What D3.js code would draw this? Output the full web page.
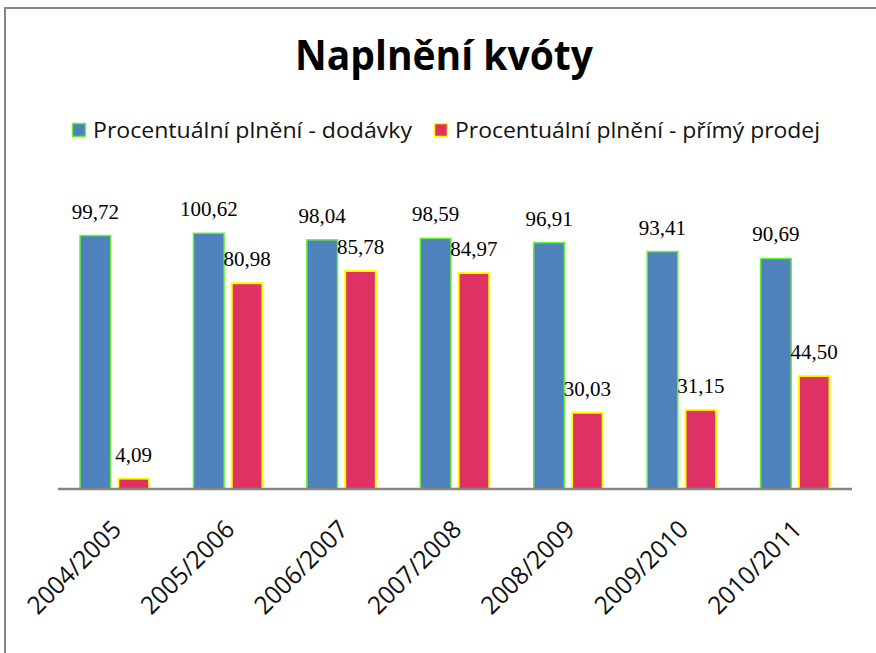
<html>
<head>
<meta charset="utf-8">
<script src="https://d3js.org/d3.v7.min.js"></script>
<style>
body { margin: 0; background: #fff; }
svg { display: block; }
</style>
</head>
<body>
<svg></svg>
<script>

var width = 876;
var height = 653;

// Data
var seasons = ["2004/2005", "2005/2006", "2006/2007", "2007/2008", "2008/2009", "2009/2010", "2010/2011"];
var seriesNames = ["Procentuální plnění - dodávky", "Procentuální plnění - přímý prodej"];
var dodavky = [99.72, 100.62, 98.04, 98.59, 96.91, 93.41, 90.69];
var primyProdej = [4.09, 80.98, 85.78, 84.97, 30.03, 31.15, 44.50];

var fills = ["#4F81BD", "#DE3264"];
var strokes = ["#66F233", "#FFFF00"];

var svg = d3.select("svg").attr("width", width).attr("height", height);

// outer frame (only top and left edges show in the window)
svg.append("rect")
	.attr("x", 5).attr("y", 8)
	.attr("width", 1000).attr("height", 1000)
	.style("fill", "none")
	.style("stroke", "#868686")
	.style("stroke-width", 2);

// title
svg.append("text")
	.attr("x", 444).attr("y", 70)
	.attr("text-anchor", "middle")
	.attr("textLength", 298)
	.attr("lengthAdjust", "spacingAndGlyphs")
	.style("font-family", "'Open Sans', 'Noto Sans', sans-serif")
	.style("font-weight", "bold")
	.style("font-size", "42px")
	.text("Naplnění kvóty");

// legend
var legendX = [72, 434];
var legendW = [319, 365];
var legend = svg.selectAll("g.legend").data(seriesNames).enter().append("g")
	.attr("class", "legend")
	.attr("transform", function (d, i) { return "translate(" + legendX[i] + ",0)"; });

legend.append("rect")
	.attr("x", 0.5).attr("y", 123.5)
	.attr("width", 13).attr("height", 13)
	.style("fill", function (d, i) { return fills[i]; })
	.style("stroke", function (d, i) { return strokes[i]; })
	.style("stroke-width", 1.5);

legend.append("text")
	.attr("x", 21).attr("y", 138)
	.attr("textLength", function (d, i) { return legendW[i]; })
	.attr("lengthAdjust", "spacingAndGlyphs")
	.style("font-family", "'Open Sans', 'Noto Sans', sans-serif")
	.style("font-size", "22px")
	.style("fill", "#111")
	.text(function (d) { return d; });

// scales
var x0 = d3.scaleBand().domain(seasons).range([58, 852]);
var x1 = d3.scaleBand().domain([0, 1]).range([22, 91]).paddingInner(0.2);
var y = d3.scaleLinear().domain([0, 120]).range([489, 184]);

var rows = seasons.map(function (s, i) {
	return { season: s, values: [dodavky[i], primyProdej[i]] };
});

var groups = svg.selectAll("g.season").data(rows).enter().append("g")
	.attr("class", "season")
	.attr("transform", function (d) { return "translate(" + x0(d.season) + ",0)"; });

var bars = groups.selectAll("g.bar")
	.data(function (d) { return d.values.map(function (v, k) { return { k: k, v: v }; }); })
	.enter().append("g").attr("class", "bar");

bars.append("rect")
	.attr("x", function (d) { return x1(d.k); })
	.attr("y", function (d) { return y(d.v); })
	.attr("width", x1.bandwidth())
	.attr("height", function (d) { return y(0) - y(d.v); })
	.style("fill", function (d) { return fills[d.k]; })
	.style("stroke", function (d) { return strokes[d.k]; })
	.style("stroke-width", function (d) { return d.k === 0 ? 1.5 : 2; });

// value labels with Czech decimal comma
var fmt = function (v) { return d3.format(".2f")(v).replace(".", ","); };

bars.append("text")
	.attr("x", function (d) { return x1(d.k) + x1.bandwidth() / 2; })
	.attr("y", function (d) { return y(d.v) - 17; })
	.attr("text-anchor", "middle")
	.style("font-family", "'Liberation Serif', 'DejaVu Serif', serif")
	.style("font-size", "21px")
	.style("fill", "#000")
	.text(function (d) { return fmt(d.v); });

// category axis line
svg.append("line")
	.attr("x1", x0.range()[0]).attr("x2", x0.range()[1])
	.attr("y1", y(0)).attr("y2", y(0))
	.style("stroke", "#868686")
	.style("stroke-width", 2.5);

// rotated season labels
svg.selectAll("text.season").data(seasons).enter().append("text")
	.attr("class", "season")
	.attr("transform", function (d) {
		return "translate(" + (x0(d) + x0.bandwidth() / 2 + 8) + ",531) rotate(-45)";
	})
	.attr("text-anchor", "end")
	.attr("textLength", 120)
	.attr("lengthAdjust", "spacingAndGlyphs")
	.style("font-family", "'Open Sans', 'Noto Sans', sans-serif")
	.style("font-size", "25px")
	.style("fill", "#111")
	.text(function (d) { return d; });

</script>
</body>
</html>
